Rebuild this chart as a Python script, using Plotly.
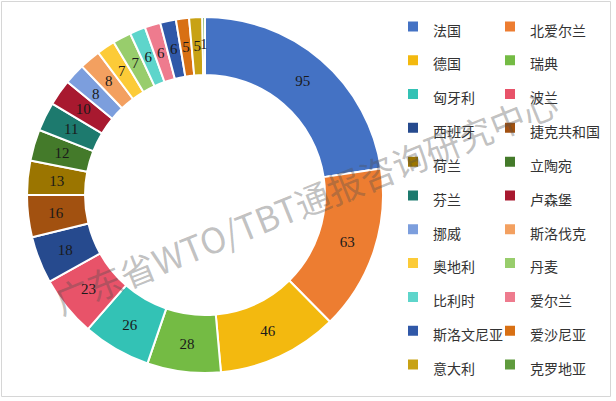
import plotly.graph_objects as go

# ---------------- data ----------------
countries = ["法国", "北爱尔兰", "德国", "瑞典", "匈牙利", "波兰", "西班牙", "捷克共和国",
             "荷兰", "立陶宛", "芬兰", "卢森堡", "挪威", "斯洛伐克", "奥地利", "丹麦",
             "比利时", "爱尔兰", "斯洛文尼亚", "爱沙尼亚", "意大利", "克罗地亚"]
counts = [95, 63, 46, 28, 26, 23, 18, 16, 13, 12, 11, 10, 8, 8, 7, 7, 6, 6, 6, 5, 5, 1]
colors = ["#4472C4", "#ED7D31", "#F3B90F", "#74BB44", "#33C2B5", "#E85369", "#264A8E", "#A25110",
          "#9B7500", "#447A2A", "#1D7A6E", "#A8192F", "#7C9EDD", "#F3A060", "#FCCB38", "#98CD6C",
          "#5ED5CB", "#EE7B8E", "#3058A8", "#D87014", "#C8A214", "#5F9B3D"]
watermark = "广东省WTO/TBT通报咨询研究中心"

# ---------------- layout geometry ----------------
W, H = 616, 401
ML, MR, MT, MB = 27, 233, 0, 0
PW, PH = W - ML - MR, H - MT - MB
CX, CY = 205, 195
R_OUT, R_IN = 178, 120
R_TXT_THIN = 152            # thin ring used for labels of narrow slices
R_TXT_WIDE, R_TXT_WIDE_IN = 166, 134   # wider ring used for labels of broad slices
WIDE_MIN = 15


def dom(r):
    x0 = (CX - r - ML) / PW
    x1 = (CX + r - ML) / PW
    y0 = 1 - (CY + r - MT) / PH
    y1 = 1 - (CY - r - MT) / PH
    return dict(x=[max(0, x0), min(1, x1)], y=[max(0, y0), min(1, y1)])


legend_labels = ['<span style="font-size:14px">%s</span>' % c for c in countries]
label_font = dict(family="Liberation Serif, Times New Roman, serif", size=15, color="#1a1a1a")
clear = ["rgba(0,0,0,0)"] * len(counts)

fig = go.Figure()
# the donut itself
fig.add_trace(go.Pie(
    labels=legend_labels, values=counts, hole=R_IN / R_OUT, domain=dom(R_OUT),
    sort=False, direction="clockwise", rotation=0,
    marker=dict(colors=colors, line=dict(color="white", width=2)),
    textinfo="none", showlegend=True, hoverinfo="label+value",
))
# value labels (narrow slices) along the middle of the ring
fig.add_trace(go.Pie(
    labels=countries, values=counts, hole=0.96, domain=dom(R_TXT_THIN),
    sort=False, direction="clockwise", rotation=0,
    marker=dict(colors=clear, line=dict(width=0)),
    text=[str(v) if v < WIDE_MIN else "" for v in counts],
    textinfo="text", textposition="inside", insidetextorientation="horizontal",
    textfont=label_font, showlegend=False, hoverinfo="skip",
))
# value labels (broad slices) along the middle of the ring
fig.add_trace(go.Pie(
    labels=countries, values=counts, hole=R_TXT_WIDE_IN / R_TXT_WIDE, domain=dom(R_TXT_WIDE),
    sort=False, direction="clockwise", rotation=0,
    marker=dict(colors=clear, line=dict(width=0)),
    text=[str(v) if v >= WIDE_MIN else "" for v in counts],
    textinfo="text", textposition="inside", insidetextorientation="horizontal",
    textfont=label_font, showlegend=False, hoverinfo="skip",
))

NEXT = 97          # column pitch of the legend
ITEM_X = 408       # left edge of first legend column
BW = 30
INDENT = -15
fig.update_layout(
    width=W, height=H,
    margin=dict(l=ML, r=MR, t=MT, b=MB, pad=0, autoexpand=False),
    paper_bgcolor="white", plot_bgcolor="white",
    uniformtext=dict(minsize=15, mode="show"),
    legend=dict(
        orientation="h", x=(ITEM_X + NEXT - ML) / PW, xanchor="center",
        y=1 - (195.5 - MT) / PH, yanchor="middle",
        entrywidth=NEXT - 45 - INDENT, entrywidthmode="pixels",
        borderwidth=BW, bordercolor="rgba(0,0,0,0)", bgcolor="rgba(0,0,0,0)",
        font=dict(family="Noto Sans CJK SC", size=23.7, color="#333333"),
        traceorder="normal",
    ),
    shapes=[dict(type="rect", xref="paper", yref="paper",
                 x0=(1.5 - ML) / PW, x1=(610.5 - ML) / PW,
                 y0=1 - (396.5 - MT) / PH, y1=1 - (1.5 - MT) / PH,
                 line=dict(color="#D6D6D6", width=1), fillcolor="rgba(0,0,0,0)", layer="below")],
    annotations=[dict(text=watermark, xref="paper", yref="paper",
                      x=(305 - ML) / PW, y=1 - (200 - MT) / PH,
                      xanchor="center", yanchor="middle", showarrow=False, textangle=-22,
                      font=dict(family="Noto Sans CJK SC", size=35, color="rgba(80,80,80,0.36)"))],
)
try:
    fig.update_layout(legend_maxheight=900)
except Exception:
    pass
try:
    fig.update_layout(legend_indentation=INDENT)
except Exception:
    pass

fig.write_html("out.html")
